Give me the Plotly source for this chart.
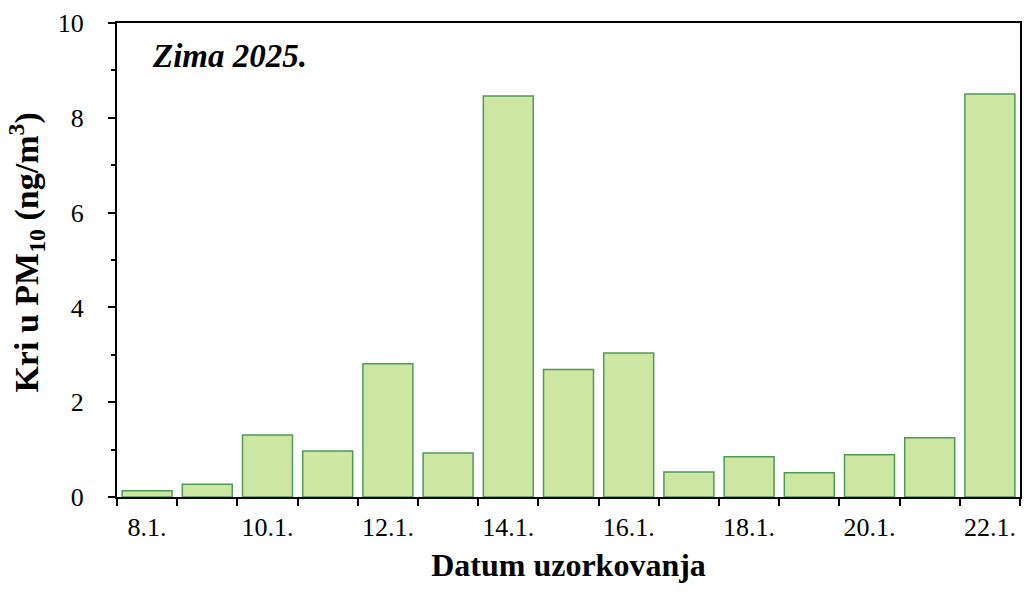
import plotly.graph_objects as go

dates = ["8.1.", "9.1.", "10.1.", "11.1.", "12.1.", "13.1.", "14.1.", "15.1.",
         "16.1.", "17.1.", "18.1.", "19.1.", "20.1.", "21.1.", "22.1."]
values = [0.13, 0.27, 1.31, 0.97, 2.81, 0.93, 8.46, 2.69, 3.04, 0.53, 0.85, 0.51, 0.89, 1.25, 8.5]
tick_text = [d if i % 2 == 0 else "" for i, d in enumerate(dates)]

fig = go.Figure(go.Bar(
    x=dates, y=values,
    marker=dict(color="#cde7a2", line=dict(color="#4f9a55", width=1.5)),
))

font = "Liberation Serif"
fig.update_layout(
    width=1024, height=593,
    margin=dict(l=117, r=4, t=23, b=96, autoexpand=False),
    plot_bgcolor="white", paper_bgcolor="white",
    bargap=0.17, showlegend=False,
    font=dict(family=font, color="black", size=26),
)
fig.update_xaxes(
    type="category", range=[-0.5, 14.5],
    tickmode="array", tickvals=dates, ticktext=tick_text, tickangle=0,
    tickson="boundaries", ticks="outside", ticklen=7, tickwidth=2, tickcolor="black",
    showline=True, linecolor="black", linewidth=2, mirror=True,
    showgrid=False, ticklabelstandoff=6,
    title=dict(text="<b>Datum uzorkovanja</b>", font=dict(size=32, family=font), standoff=12),
    tickfont=dict(size=26, family=font),
)
fig.update_yaxes(
    range=[0, 10], tickvals=[0, 2, 4, 6, 8, 10],
    ticks="outside", ticklen=7, tickwidth=2, tickcolor="black",
    minor=dict(tickvals=[1, 3, 5, 7, 9], ticks="outside", ticklen=4, tickwidth=2, tickcolor="black", showgrid=False),
    showline=True, linecolor="black", linewidth=2, mirror=True,
    showgrid=False, zeroline=False, ticklabelstandoff=19,
    tickfont=dict(size=26, family=font),
)
fig.add_annotation(
    text="<b>Kri u PM<sub>10</sub> (ng/m<sup>3</sup>)</b>", xref="paper", yref="paper",
    x=-0.1, y=0.515, xanchor="center", yanchor="middle", textangle=-90, showarrow=False,
    font=dict(size=34, family=font, color="black"),
)
fig.add_annotation(
    text="<b><i>Zima 2025.</i></b>", xref="paper", yref="paper",
    x=0.036, y=0.93, xanchor="left", yanchor="middle", showarrow=False,
    font=dict(size=33, family=font, color="black"),
)
fig.write_html("out.html", config={"displayModeBar": False},
               post_script="document.body.style.margin='0';")
